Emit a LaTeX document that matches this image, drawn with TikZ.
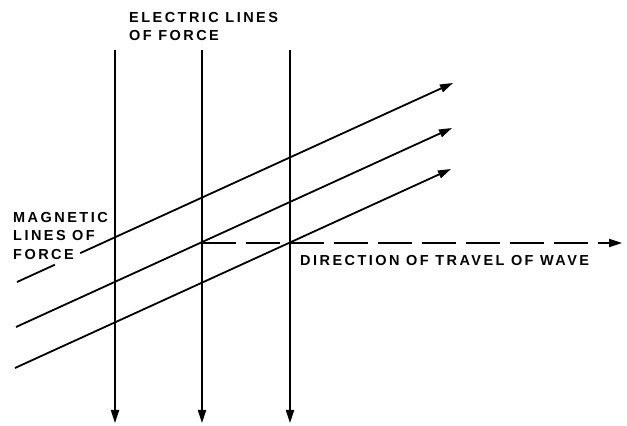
\documentclass[tikz,border=0pt]{standalone}
\usepackage{fontspec}
\usepackage{tikz}
\usetikzlibrary{arrows.meta, calc}
\newfontfamily\lettering[LetterSpace=17]{Liberation Sans}

\begin{document}
\begin{tikzpicture}[x=1pt,y=1pt,
    fline/.style={line width=1.8pt,-{Triangle[length=13pt,width=8pt]}},
    lbl/.style={font=\lettering\bfseries\fontsize{14.5}{18.5}\selectfont,align=left,inner sep=0pt}]
  \useasboundingbox (0,0) rectangle (627,426);
  % electric lines of force
  \foreach \x [count=\i] in {115,202,290}{
    \coordinate (e\i t) at (\x,376);
    \coordinate (e\i b) at (\x,3);
    \draw[fline] (e\i t) -- (e\i b);
  }
  % magnetic lines of force
  \coordinate (m1s) at (17,144);  \coordinate (m1e) at (453,343);
  \coordinate (m2s) at (16,99);   \coordinate (m2e) at (452,298);
  \coordinate (m3s) at (15,58);   \coordinate (m3e) at (451,257);
  \draw[line width=1.8pt] (m1s) -- ($(m1s)!0.087!(m1e)$);
  \draw[fline] ($(m1s)!0.145!(m1e)$) -- (m1e);
  \draw[fline] (m2s) -- (m2e);
  \draw[fline] (m3s) -- (m3e);
  % direction of travel
  \coordinate (d0) at (202,183);
  \coordinate (d1) at (622,183);
  \draw[fline,dash pattern=on 34pt off 10pt] (d0) -- (d1);
  % labels
  \node[lbl,anchor=north west] (elec) at (129,414) {ELECTRIC LINES\\OF FORCE};
  \node[lbl,anchor=north west] (magn) at (13,214) {MAGNETIC\\LINES OF\\FORCE};
  \node[lbl,anchor=west] (dirn) at (300,165) {DIRECTION OF TRAVEL OF WAVE};
\end{tikzpicture}
\end{document}
